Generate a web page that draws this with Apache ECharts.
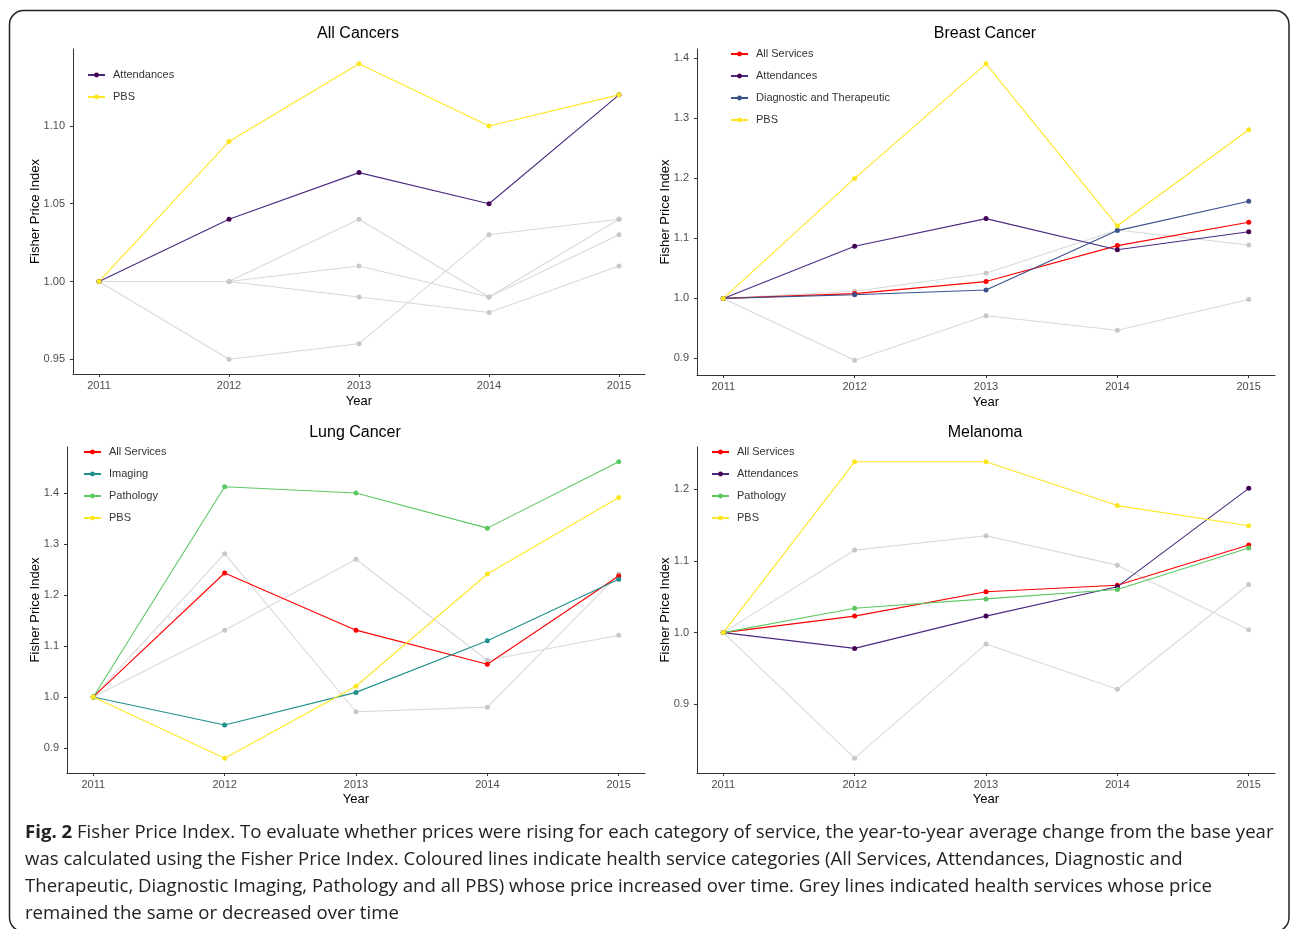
<!DOCTYPE html>
<html>
<head>
<meta charset="utf-8">
<script src="https://cdn.jsdelivr.net/npm/echarts@6/dist/echarts.min.js"></script>
<style>
html,body{margin:0;padding:0;background:#fff;}
#chart{width:1290px;height:929px;}
</style>
</head>
<body>
<div id="chart"></div>
<script>
// ---------- DATA ----------
const years = [2011, 2012, 2013, 2014, 2015];

// All Cancers
const allCancersAttendances = [1.00, 1.04, 1.07, 1.05, 1.12];
const allCancersPBS         = [1.00, 1.09, 1.14, 1.10, 1.12];
const allCancersGrey1       = [1.00, 1.00, 1.04, 0.99, 1.03];
const allCancersGrey2       = [1.00, 1.00, 1.01, 0.99, 1.04];
const allCancersGrey3       = [1.00, 1.00, 0.99, 0.98, 1.01];
const allCancersGrey4       = [1.00, 0.95, 0.96, 1.03, 1.04];
const allCancersTicks       = [0.95, 1.00, 1.05, 1.10];

// Breast Cancer
const breastAllServices = [1.00, 1.008, 1.028, 1.088, 1.127];
const breastAttendances = [1.00, 1.087, 1.133, 1.081, 1.111];
const breastDiagTher    = [1.00, 1.006, 1.014, 1.113, 1.162];
const breastPBS         = [1.00, 1.200, 1.391, 1.121, 1.281];
const breastGrey1       = [1.00, 1.012, 1.042, 1.114, 1.089];
const breastGrey2       = [1.00, 0.897, 0.971, 0.947, 0.998];
const breastTicks       = [0.9, 1.0, 1.1, 1.2, 1.3, 1.4];

// Lung Cancer
const lungAllServices = [1.00, 1.243, 1.131, 1.064, 1.237];
const lungImaging     = [1.00, 0.945, 1.009, 1.110, 1.231];
const lungPathology   = [1.00, 1.412, 1.400, 1.331, 1.461];
const lungPBS         = [1.00, 0.880, 1.021, 1.241, 1.391];
const lungGrey1       = [1.00, 1.281, 0.971, 0.980, 1.241];
const lungGrey2       = [1.00, 1.131, 1.270, 1.072, 1.121];
const lungTicks       = [0.9, 1.0, 1.1, 1.2, 1.3, 1.4];

// Melanoma
const melAllServices = [1.00, 1.023, 1.057, 1.066, 1.122];
const melAttendances = [1.00, 0.978, 1.023, 1.064, 1.201];
const melPathology   = [1.00, 1.034, 1.047, 1.060, 1.118];
const melPBS         = [1.00, 1.238, 1.238, 1.177, 1.149];
const melGrey1       = [1.00, 1.115, 1.135, 1.094, 1.004];
const melGrey2       = [1.00, 0.825, 0.984, 0.921, 1.067];
const melTicks       = [0.9, 1.0, 1.1, 1.2];

const panelTitles = ['All Cancers', 'Breast Cancer', 'Lung Cancer', 'Melanoma'];
const captionBold = 'Fig. 2';
const captionLines = [
  ' Fisher Price Index. To evaluate whether prices were rising for each category of service, the year-to-year average change from the base year',
  'was calculated using the Fisher Price Index. Coloured lines indicate health service categories (All Services, Attendances, Diagnostic and',
  'Therapeutic, Diagnostic Imaging, Pathology and all PBS) whose price increased over time. Grey lines indicated health services whose price',
  'remained the same or decreased over time'
];

// ---------- STYLE ----------
const COLORS = {
  'All Services': '#FF0000',
  'Attendances': '#4A2A80',
  'Diagnostic and Therapeutic': '#3B528B',
  'Imaging': '#21908C',
  'Pathology': '#5DC863',
  'PBS': '#FDE725'
};
const POINT_COLORS = Object.assign({}, COLORS, {'Attendances': '#440154'});
const GREY_LINE = '#D9D9D9';
const GREY_PT = '#C8C8C8';
const FONT = "'Liberation Sans', Arial, sans-serif";

const panels = [
  { grid: {left: 73, top: 49, width: 572, height: 325}, nameGapY: 31, nameGapX: 21, ticks: allCancersTicks, dec: 2,
    legend: {left: 87, top: 69},
    coloured: [['Attendances', allCancersAttendances], ['PBS', allCancersPBS]],
    grey: [allCancersGrey1, allCancersGrey2, allCancersGrey3, allCancersGrey4],
    title: {x: 358, y: 33} },
  { grid: {left: 697, top: 49, width: 578, height: 326}, nameGapY: 25, nameGapX: 21, ticks: breastTicks, dec: 1,
    legend: {left: 730, top: 48},
    coloured: [['All Services', breastAllServices], ['Attendances', breastAttendances], ['Diagnostic and Therapeutic', breastDiagTher], ['PBS', breastPBS]],
    grey: [breastGrey1, breastGrey2],
    title: {x: 985, y: 33} },
  { grid: {left: 67, top: 447, width: 578, height: 326}, nameGapY: 25, nameGapX: 20, ticks: lungTicks, dec: 1,
    legend: {left: 83, top: 446},
    coloured: [['All Services', lungAllServices], ['Imaging', lungImaging], ['Pathology', lungPathology], ['PBS', lungPBS]],
    grey: [lungGrey1, lungGrey2],
    title: {x: 355, y: 432} },
  { grid: {left: 697, top: 447, width: 578, height: 326}, nameGapY: 25, nameGapX: 20, ticks: melTicks, dec: 1,
    legend: {left: 711, top: 446},
    coloured: [['All Services', melAllServices], ['Attendances', melAttendances], ['Pathology', melPathology], ['PBS', melPBS]],
    grey: [melGrey1, melGrey2],
    title: {x: 985, y: 432} }
];

const grids = [], xAxes = [], yAxes = [], series = [], legends = [], graphics = [];

function pairs(vals) { return years.map((y, i) => [y, vals[i]]); }

panels.forEach((p, idx) => {
  grids.push(Object.assign({containLabel: false}, p.grid));
  const all = p.coloured.map(c => c[1]).concat(p.grey).flat();
  const dmin = Math.min(...all), dmax = Math.max(...all);
  const pad = (dmax - dmin) * 0.05;
  const axisLine = {show: true, onZero: false, lineStyle: {color: '#333', width: 1}};
  const axisTick = {show: true, length: 3, lineStyle: {color: '#333', width: 1}};
  xAxes.push({
    gridIndex: idx, type: 'value', min: 2010.8, max: 2015.2,
    name: 'Year', nameLocation: 'middle', nameGap: p.nameGapX, nameMoveOverlap: false,
    nameTextStyle: {fontFamily: FONT, fontSize: 13, color: '#000', verticalAlign: 'top'},
    axisLine, axisTick: Object.assign({customValues: years}, axisTick),
    axisLabel: {customValues: years, margin: 6, fontFamily: FONT, fontSize: 11, color: '#4D4D4D', formatter: v => String(v)},
    splitLine: {show: false}
  });
  yAxes.push({
    gridIndex: idx, type: 'value', min: dmin - pad, max: dmax + pad,
    name: 'Fisher Price Index', nameLocation: 'middle', nameGap: p.nameGapY, nameRotate: 90, nameMoveOverlap: false,
    nameTextStyle: {fontFamily: FONT, fontSize: 13, color: '#000'},
    axisLine, axisTick: Object.assign({customValues: p.ticks}, axisTick),
    axisLabel: {customValues: p.ticks, margin: 8, fontFamily: FONT, fontSize: 11, color: '#4D4D4D', formatter: v => v.toFixed(p.dec)},
    splitLine: {show: false}
  });
  p.grey.forEach((g, gi) => {
    series.push({
      name: 'grey-' + idx + '-' + gi, type: 'line', xAxisIndex: idx, yAxisIndex: idx,
      data: pairs(g), symbol: 'circle', symbolSize: 5, showSymbol: true,
      lineStyle: {color: GREY_LINE, width: 1.1}, itemStyle: {color: GREY_PT},
      silent: true, animation: false, z: 1
    });
  });
  p.coloured.forEach(([name, vals]) => {
    series.push({
      name, type: 'line', xAxisIndex: idx, yAxisIndex: idx,
      data: pairs(vals), symbol: 'circle', symbolSize: 5,
      lineStyle: {color: COLORS[name], width: 1.1}, itemStyle: {color: POINT_COLORS[name]},
      animation: false, z: 3
    });
  });
  legends.push({
    orient: 'vertical', left: p.legend.left, top: p.legend.top, padding: 0,
    data: p.coloured.map(c => c[0]),
    itemWidth: 17, itemHeight: 6, itemGap: 10,
    textStyle: {fontFamily: FONT, fontSize: 11, color: '#333', lineHeight: 12, padding: [0, 0, 0, 3]},
    selectedMode: false
  });
  graphics.push({
    type: 'text', x: p.title.x, y: p.title.y + 1,
    style: {text: panelTitles[idx], font: "16px 'Liberation Sans', Arial, sans-serif", fill: '#000', textAlign: 'center', textVerticalAlign: 'middle'}
  });
});

// Figure border
graphics.unshift({
  type: 'rect', shape: {x: 9.5, y: 10.5, width: 1279.5, height: 921, r: 14},
  style: {fill: 'none', stroke: '#222', lineWidth: 1.5}, z: -1
});

// Caption
graphics.push({
  type: 'text', x: 25, y: 819,
  style: {
    text: '{b|' + captionBold + '}' + captionLines[0] + '\n' + captionLines.slice(1).join('\n'),
    font: "18.6px 'Open Sans', sans-serif",
    fill: '#222', lineHeight: 27,
    rich: {b: {fontFamily: "'Open Sans', sans-serif", fontWeight: 'bold', fontSize: 18.6, fill: '#222', lineHeight: 27}}
  }
});

const chart = echarts.init(document.getElementById('chart'), null, {renderer: 'canvas'});
chart.setOption({
  backgroundColor: '#fff',
  animation: false,
  grid: grids, xAxis: xAxes, yAxis: yAxes, series, legend: legends, graphic: graphics,
  tooltip: {show: false}
});
</script>
</body>
</html>
